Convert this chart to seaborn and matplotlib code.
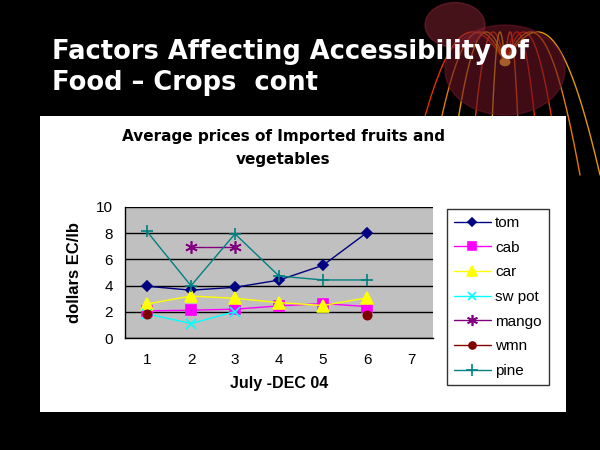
import numpy as np
import pandas as pd
import matplotlib
matplotlib.use("Agg")
import matplotlib.pyplot as plt
from matplotlib.lines import Line2D
from matplotlib.patches import Rectangle, Circle
import seaborn as sns

# ------------------------------------------------------------
# Data
# ------------------------------------------------------------
months = [1, 2, 3, 4, 5, 6]
tom = [3.95, 3.65, 3.87, 4.42, 5.55, 8.05]
cab = [2.07, 2.12, 2.2, 2.45, 2.63, 2.4]
car = [2.6, 3.2, 3.03, 2.7, 2.48, 3.07]
sw_pot = [1.85, 1.1, 2.02, None, None, None]
mango = [None, 6.98, 6.98, None, None, None]
wmn = [1.85, None, None, None, None, 1.77]
pine = [8.13, 3.99, 7.95, 4.73, 4.43, 4.43]

series_names = ["tom", "cab", "car", "sw pot", "mango", "wmn", "pine"]
series_values = [tom, cab, car, sw_pot, mango, wmn, pine]
colors = ["#000080", "#FF00FF", "#FFFF00", "#00FFFF", "#800080", "#800000", "#008080"]
markers = ["D", "s", "^", "x", (6, 2, 0), "o", "+"]
msizes = [5.5, 7, 8, 7, 9, 6, 9]

x_ticklabels = ["1", "2", "3", "4", "5", "6", "7"]

# ------------------------------------------------------------
# Figure / slide background
# ------------------------------------------------------------
sns.set_style("white")
plt.rcParams["font.family"] = ["Liberation Sans", "DejaVu Sans"]
plt.rcParams["text.color"] = "black"
plt.rcParams["axes.labelcolor"] = "black"
plt.rcParams["xtick.color"] = "black"
plt.rcParams["ytick.color"] = "black"

fig = plt.figure(figsize=(6, 4.5), dpi=100)
fig.patch.set_facecolor("black")

# decorative firework in the top right corner
fig.patches.append(Circle((505 / 600, 1 - 70 / 450), 0.10, transform=fig.transFigure,
                          color="#6a1525", alpha=0.6, zorder=0))
fig.patches.append(Circle((455 / 600, 1 - 25 / 450), 0.05, transform=fig.transFigure,
                          color="#8a2535", alpha=0.5, zorder=0))
cx, cy = 505, 62
arc_cols = ["#ff3300", "#ff8800", "#ffaa00", "#ff4400", "#ffcc00", "#ff6600", "#ff2200"]
for i, dx in enumerate([-95, -75, -55, -35, -15, 15, 35, 55, 75, 95]):
    t = np.linspace(0, 1, 40)
    px = cx + dx * t
    py = cy - 55 * np.sin(np.pi * t * 0.9) + 130 * t ** 2
    fig.add_artist(Line2D(px / 600, 1 - py / 450, transform=fig.transFigure,
                          color=arc_cols[i % len(arc_cols)], lw=1.0, alpha=0.9, zorder=0))
fig.add_artist(Circle((cx / 600, 1 - cy / 450), 0.008, transform=fig.transFigure,
                      color="#ffcc33", zorder=0))

# slide title
fig.text(52 / 600, 1 - 52 / 450, "Factors Affecting Accessibility of",
         color="white", fontsize=18.5, fontweight="bold", va="center", ha="left",
         family="DejaVu Sans")
fig.text(52 / 600, 1 - 83 / 450, "Food \u2013 Crops  cont",
         color="white", fontsize=18.5, fontweight="bold", va="center", ha="left",
         family="DejaVu Sans")

# white chart panel
panel = Rectangle((40 / 600, 1 - 412 / 450), 526 / 600, 296 / 450,
                  transform=fig.transFigure, facecolor="white", edgecolor="none", zorder=1)
fig.patches.append(panel)

# ------------------------------------------------------------
# Line chart
# ------------------------------------------------------------
ax = fig.add_axes([125 / 600, 1 - 338 / 450, 308 / 600, 131 / 450])
ax.set_facecolor("#C0C0C0")
ax.set_zorder(2)

handles = []
for name, vals, col, mk, ms in zip(series_names, series_values, colors, markers, msizes):
    df = pd.DataFrame({"month": months, "price": vals}).astype(float)
    # split into contiguous runs so gaps are not bridged
    run_id = df["price"].isna().cumsum()
    for _, seg in df.dropna().groupby(run_id[df["price"].notna()]):
        sns.lineplot(data=seg, x="month", y="price", ax=ax, color=col,
                     marker=mk, markersize=ms, markeredgecolor=col,
                     markeredgewidth=1.2, linewidth=1.0, legend=False, zorder=3)
    handles.append(Line2D([0], [0], color=col, marker=mk, markersize=ms - 1,
                          markeredgecolor=col, markeredgewidth=1.2, lw=1.0, label=name))

ax.set_xlim(0.5, 7.5)
ax.set_ylim(0, 10)
ax.set_yticks([0, 2, 4, 6, 8, 10])
ax.yaxis.grid(True, color="black", linewidth=1.0)
ax.set_axisbelow(True)

ax.set_xticks(np.arange(0.5, 8.0, 1.0))
ax.set_xticklabels([])
ax.set_xticks(np.arange(1, 8), minor=True)
ax.set_xticklabels(x_ticklabels, minor=True)
ax.tick_params(axis="x", which="major", direction="out", length=5, width=1, color="black")
ax.tick_params(axis="x", which="minor", length=0, pad=11, labelsize=11)
ax.tick_params(axis="y", direction="out", length=5, width=1, color="black", labelsize=11)

for side in ["top", "right"]:
    ax.spines[side].set_visible(False)
for side in ["left", "bottom"]:
    ax.spines[side].set_color("black")
    ax.spines[side].set_linewidth(1.0)

ax.set_xlabel("July -DEC 04", fontsize=11.5, fontweight="bold", labelpad=6)
ax.set_ylabel("dollars EC/lb", fontsize=12, fontweight="bold", labelpad=10)

fig.text(283 / 600, 1 - 148 / 450, "Average prices of Imported fruits and\nvegetables",
         ha="center", va="center", fontsize=11, fontweight="bold",
         linespacing=1.6, zorder=3, family="DejaVu Sans")

leg = fig.legend(handles=handles, loc="upper left",
                 bbox_to_anchor=(447 / 600, 1 - 209 / 450),
                 fontsize=11, frameon=True, fancybox=False, edgecolor="black",
                 handlelength=2.4, labelspacing=0.7, borderpad=0.45,
                 handletextpad=0.3, borderaxespad=0)
leg.get_frame().set_linewidth(1.0)
leg.set_zorder(3)

fig.savefig("out.png", dpi=100, facecolor=fig.get_facecolor())
